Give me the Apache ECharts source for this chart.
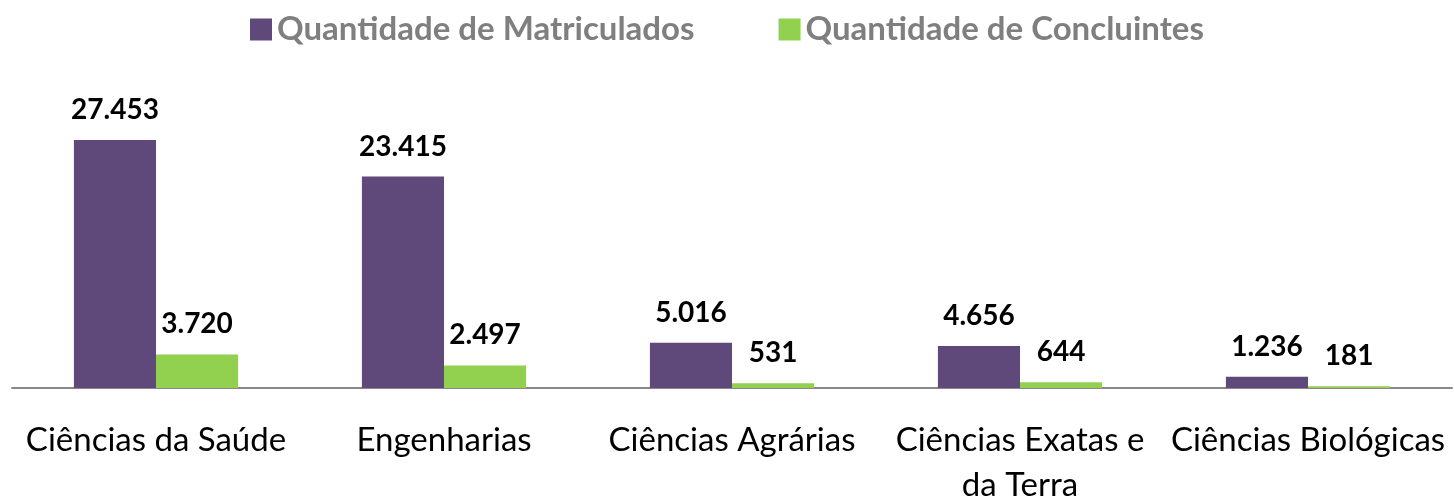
<!DOCTYPE html>
<html>
<head>
<meta charset="utf-8">
<script src="https://cdn.jsdelivr.net/npm/echarts@6/dist/echarts.min.js"></script>
<style>
    html, body { margin: 0; padding: 0; background: #fff; }
    #chart { width: 1454px; height: 496px; }
</style>
</head>
<body>
<div id="chart"></div>
<script>
const categories = ['Ciências da Saúde', 'Engenharias', 'Ciências Agrárias', 'Ciências Exatas e da Terra', 'Ciências Biológicas']
const matriculados = [27453, 23415, 5016, 4656, 1236]
const concluintes = [3720, 2497, 531, 644, 181]

const fmt = v => v.toLocaleString('pt-BR')

const chart = echarts.init(document.getElementById('chart'))
chart.setOption({
    textStyle: { fontFamily: 'Lato' },
    legend: {
        top: 8,
        left: 'center',
        itemWidth: 22,
        itemHeight: 22,
        itemGap: 84,
        icon: 'rect',
        textStyle: { color: '#7F7F7F', fontSize: 33, fontWeight: 'bold', fontFamily: 'Lato' }
    },
    grid: { left: 12, right: 2, top: 117, bottom: 108, outerBoundsMode: 'none', containLabel: false },
    xAxis: {
        type: 'category',
        data: categories,
        axisLine: { lineStyle: { color: '#888', width: 2 } },
        axisTick: { length: 12, lineStyle: { color: '#888', width: 2 } },
        axisLabel: {
            color: '#000', fontSize: 33, margin: 30, interval: 0, lineHeight: 45,
            // the long label wraps after "e" as in the original
            formatter: v => v.replace(' da Terra', '\nda Terra')
        }
    },
    yAxis: { type: 'value', min: 0, max: 30000, show: false, splitLine: { show: false } },
    series: [{
        name: 'Quantidade de Matriculados',
        type: 'bar',
        data: matriculados,
        barGap: '0%',
        barCategoryGap: '43%',
        itemStyle: { color: '#5F497A' },
        label: { show: true, position: 'top', distance: 16, color: '#000', fontSize: 28, fontWeight: 'bold', formatter: p => fmt(p.value) }
    }, {
        name: 'Quantidade de Concluintes',
        type: 'bar',
        data: concluintes,
        itemStyle: { color: '#92D050' },
        label: { show: true, position: 'top', distance: 16, color: '#000', fontSize: 28, fontWeight: 'bold', formatter: p => fmt(p.value) }
    }]
})
</script>
</body>
</html>
